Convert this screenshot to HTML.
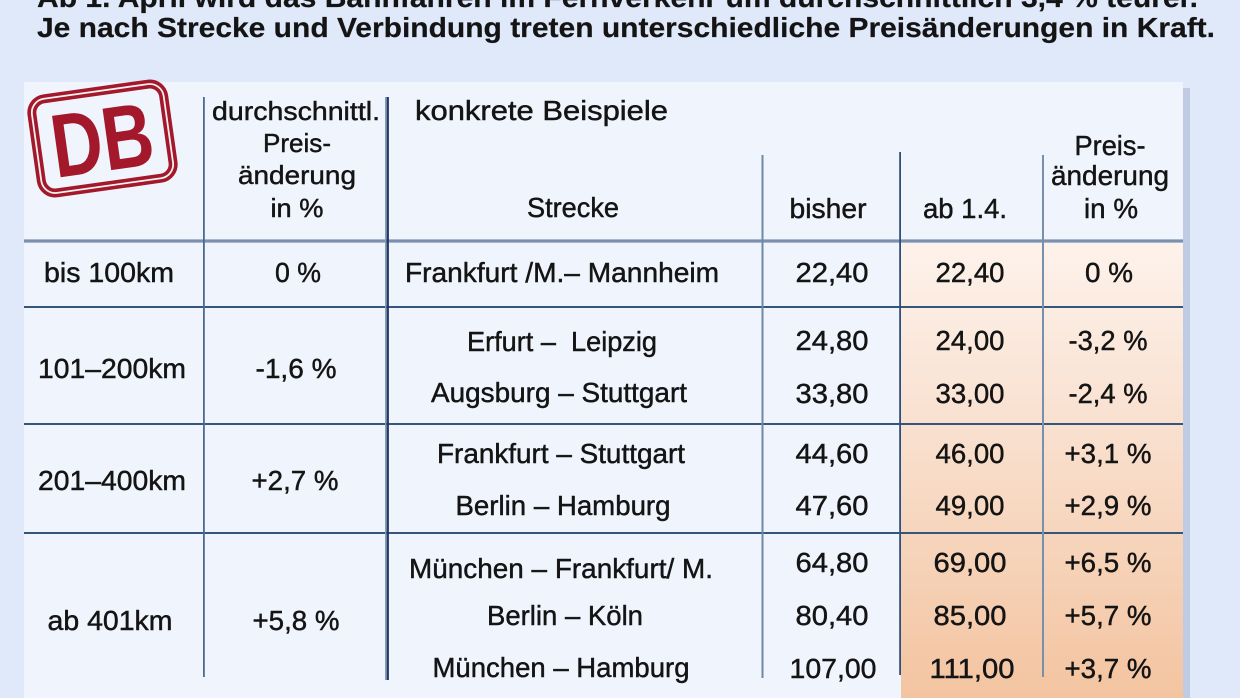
<!DOCTYPE html>
<html><head><meta charset="utf-8">
<style>
html,body{margin:0;padding:0;background:#e0e9fa;}
svg{display:block;}
.t{font-family:"Liberation Sans",sans-serif;font-size:27.5px;fill:#141414;stroke:#141414;stroke-width:0.45;}
.h{font-size:26px;}
.b{font-weight:bold;font-size:28px;stroke-width:0.2;}
</style></head>
<body>
<svg width="1240" height="698" viewBox="0 0 1240 698" xmlns="http://www.w3.org/2000/svg">
<defs>
<linearGradient id="og" x1="0" y1="0" x2="0" y2="1">
<stop offset="0" stop-color="#fdf2eb"/>
<stop offset="0.3" stop-color="#fae5d7"/>
<stop offset="0.6" stop-color="#f7d7c0"/>
<stop offset="1" stop-color="#f3c4a0"/>
</linearGradient>
</defs>
<rect x="0" y="0" width="1240" height="698" fill="#e0e9fa"/>
<!-- panel -->
<rect x="24" y="82" width="1159" height="616" fill="#f0f5fd"/>
<rect x="1183" y="88" width="7" height="610" fill="#bfcae3"/>
<!-- orange shading -->
<rect x="901" y="243" width="282" height="455" fill="url(#og)"/>

<!-- horizontal lines -->
<rect x="24" y="239" width="1159" height="4" fill="#a9b8cd"/>
<rect x="24" y="240" width="1159" height="2" fill="#7b90ae"/>
<rect x="24" y="306" width="1159" height="2" fill="#34557c"/>
<rect x="24" y="423" width="1159" height="2" fill="#34557c"/>
<rect x="24" y="532" width="1159" height="2" fill="#34557c"/>

<!-- vertical lines -->
<rect x="203" y="97" width="1.8" height="580" fill="#4d6b8f"/>
<rect x="385" y="97" width="1.2" height="583" fill="#8a9bb5"/>
<rect x="386.5" y="97" width="2.4" height="583" fill="#1f3a66"/>
<rect x="761.5" y="155" width="2" height="523" fill="#7088a8"/>
<rect x="899.2" y="152" width="1.8" height="523" fill="#2f4f78"/>
<rect x="1042" y="155" width="2" height="522" fill="#7890ae"/>

<!-- DB logo -->
<g transform="rotate(-8 102.5 138.5)">
<rect x="36" y="91" width="133" height="95" rx="14" ry="14" fill="none" stroke="#a3182a" stroke-width="9"/>
<rect x="36" y="91" width="133" height="95" rx="14" ry="14" fill="none" stroke="#f5f0f2" stroke-width="1.8"/>
<text x="102" y="171" text-anchor="middle" textLength="102" lengthAdjust="spacingAndGlyphs" style="font-family:'Liberation Sans',sans-serif;font-weight:bold;font-size:90px;fill:#a3182a;">DB</text>
</g>

<!-- title -->
<text class="t b" x="37" y="7" textLength="1161" lengthAdjust="spacingAndGlyphs">Ab 1. April wird das Bahnfahren im Fernverkehr um durchschnittlich 3,4 % teurer.</text>
<text class="t b" x="37" y="37" textLength="1178" lengthAdjust="spacingAndGlyphs">Je nach Strecke und Verbindung treten unterschiedliche Preisänderungen in Kraft.</text>

<g text-anchor="middle">
<!-- header -->
<text class="t h" x="296" y="120" textLength="168" lengthAdjust="spacingAndGlyphs">durchschnittl.</text>
<text class="t h" x="297" y="152" textLength="68" lengthAdjust="spacingAndGlyphs">Preis-</text>
<text class="t h" x="297" y="184" textLength="118" lengthAdjust="spacingAndGlyphs">änderung</text>
<text class="t h" x="297" y="217" textLength="53" lengthAdjust="spacingAndGlyphs">in %</text>
<text class="t" x="415" y="120" text-anchor="start" textLength="253" lengthAdjust="spacingAndGlyphs">konkrete Beispiele</text>
<text class="t" x="573" y="217" textLength="92" lengthAdjust="spacingAndGlyphs">Strecke</text>
<text class="t" x="828" y="218" textLength="77" lengthAdjust="spacingAndGlyphs">bisher</text>
<text class="t" x="965" y="218" textLength="84" lengthAdjust="spacingAndGlyphs">ab 1.4.</text>
<text class="t" x="1110" y="155" textLength="71" lengthAdjust="spacingAndGlyphs">Preis-</text>
<text class="t" x="1110" y="185" textLength="118" lengthAdjust="spacingAndGlyphs">änderung</text>
<text class="t" x="1111" y="218" textLength="54" lengthAdjust="spacingAndGlyphs">in %</text>

<!-- row 1 -->
<text class="t" x="109" y="282" textLength="130" lengthAdjust="spacingAndGlyphs">bis 100km</text>
<text class="t" x="298" y="282" textLength="46" lengthAdjust="spacingAndGlyphs">0 %</text>
<text class="t" x="562" y="282" textLength="314" lengthAdjust="spacingAndGlyphs">Frankfurt /M.– Mannheim</text>
<text class="t" x="832" y="282" textLength="73" lengthAdjust="spacingAndGlyphs">22,40</text>
<text class="t" x="970" y="282" textLength="69" lengthAdjust="spacingAndGlyphs">22,40</text>
<text class="t" x="1109" y="282" textLength="48" lengthAdjust="spacingAndGlyphs">0 %</text>

<!-- row 2 -->
<text class="t" x="112" y="378" textLength="148" lengthAdjust="spacingAndGlyphs">101–200km</text>
<text class="t" x="296" y="378" textLength="81" lengthAdjust="spacingAndGlyphs">-1,6 %</text>
<text class="t" x="562" y="351" textLength="190" lengthAdjust="spacingAndGlyphs" xml:space="preserve" style="white-space:pre">Erfurt –  Leipzig</text>
<text class="t" x="559" y="402" textLength="256" lengthAdjust="spacingAndGlyphs">Augsburg – Stuttgart</text>
<text class="t" x="832" y="350" textLength="73" lengthAdjust="spacingAndGlyphs">24,80</text>
<text class="t" x="832" y="403" textLength="73" lengthAdjust="spacingAndGlyphs">33,80</text>
<text class="t" x="970" y="350" textLength="69" lengthAdjust="spacingAndGlyphs">24,00</text>
<text class="t" x="970" y="403" textLength="69" lengthAdjust="spacingAndGlyphs">33,00</text>
<text class="t" x="1108" y="350" textLength="79" lengthAdjust="spacingAndGlyphs">-3,2 %</text>
<text class="t" x="1108" y="403" textLength="79" lengthAdjust="spacingAndGlyphs">-2,4 %</text>

<!-- row 3 -->
<text class="t" x="112" y="490" textLength="148" lengthAdjust="spacingAndGlyphs">201–400km</text>
<text class="t" x="295" y="490" textLength="87" lengthAdjust="spacingAndGlyphs">+2,7 %</text>
<text class="t" x="561" y="463" textLength="248" lengthAdjust="spacingAndGlyphs">Frankfurt – Stuttgart</text>
<text class="t" x="563" y="515" textLength="215" lengthAdjust="spacingAndGlyphs">Berlin – Hamburg</text>
<text class="t" x="832" y="463" textLength="73" lengthAdjust="spacingAndGlyphs">44,60</text>
<text class="t" x="832" y="515" textLength="73" lengthAdjust="spacingAndGlyphs">47,60</text>
<text class="t" x="970" y="463" textLength="69" lengthAdjust="spacingAndGlyphs">46,00</text>
<text class="t" x="970" y="515" textLength="69" lengthAdjust="spacingAndGlyphs">49,00</text>
<text class="t" x="1108" y="463" textLength="87" lengthAdjust="spacingAndGlyphs">+3,1 %</text>
<text class="t" x="1108" y="515" textLength="87" lengthAdjust="spacingAndGlyphs">+2,9 %</text>

<!-- row 4 -->
<text class="t" x="110" y="630" textLength="125" lengthAdjust="spacingAndGlyphs">ab 401km</text>
<text class="t" x="296" y="630" textLength="87" lengthAdjust="spacingAndGlyphs">+5,8 %</text>
<text class="t" x="561" y="578" textLength="304" lengthAdjust="spacingAndGlyphs">München – Frankfurt/ M.</text>
<text class="t" x="565" y="625" textLength="156" lengthAdjust="spacingAndGlyphs">Berlin – Köln</text>
<text class="t" x="561" y="677" textLength="257" lengthAdjust="spacingAndGlyphs">München – Hamburg</text>
<text class="t" x="832" y="572" textLength="73" lengthAdjust="spacingAndGlyphs">64,80</text>
<text class="t" x="832" y="625" textLength="73" lengthAdjust="spacingAndGlyphs">80,40</text>
<text class="t" x="833" y="678" textLength="87" lengthAdjust="spacingAndGlyphs">107,00</text>
<text class="t" x="970" y="572" textLength="73" lengthAdjust="spacingAndGlyphs">69,00</text>
<text class="t" x="970" y="625" textLength="73" lengthAdjust="spacingAndGlyphs">85,00</text>
<text class="t" x="972" y="678" textLength="85" lengthAdjust="spacingAndGlyphs">111,00</text>
<text class="t" x="1108" y="572" textLength="87" lengthAdjust="spacingAndGlyphs">+6,5 %</text>
<text class="t" x="1108" y="625" textLength="87" lengthAdjust="spacingAndGlyphs">+5,7 %</text>
<text class="t" x="1108" y="678" textLength="87" lengthAdjust="spacingAndGlyphs">+3,7 %</text>
</g>
</svg>
</body></html>
